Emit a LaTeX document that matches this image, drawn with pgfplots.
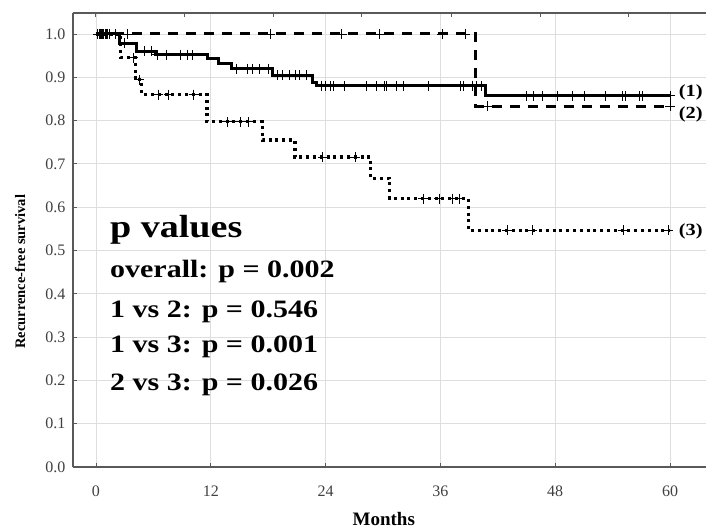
\documentclass[border=0pt]{standalone}
\usepackage{fontspec}
\setmainfont{Liberation Serif}
\usepackage{graphicx}
\usepackage{pgfplots}
\pgfplotsset{compat=1.18}

\begin{document}
\begin{tikzpicture}
\begin{axis}[
  name=ax,
  scale only axis,
  width=633pt, height=454pt,
  xmin=-2.40, xmax=63.76,
  ymin=0, ymax=1.0485,
  clip=false,
  separate axis lines,
  axis x line*=box,
  axis y line*=left,
  axis line style={draw=black!65, line width=1.2pt, -},
  xtick={0,12,24,36,48,60},
  xtick pos=bottom,
  ytick={0,0.1,0.2,0.3,0.4,0.5,0.6,0.7,0.8,0.9,1.0},
  yticklabels={0.0,0.1,0.2,0.3,0.4,0.5,0.6,0.7,0.8,0.9,1.0},
  ytick pos=left,
  tick align=inside,
  major tick length=4pt,
  tick style={draw=black!65, line width=0.8pt},
  grid=major,
  major grid style={draw=black!13, line width=0.8pt},
  /pgf/number format/assume math mode=true,
  xticklabel style={font=\fontsize{16}{16}\selectfont, text=black!75, yshift=-15pt},
  yticklabel style={font=\fontsize{16}{16}\selectfont, text=black!75, xshift=-4pt},
  xlabel={Months},
  xlabel style={font=\bfseries\fontsize{19}{19}\selectfont, at={(axis description cs:0.491,-0.1145)}, anchor=center},
  ylabel={Recurrence-free survival},
  ylabel style={font=\bfseries\fontsize{14.5}{14.5}\selectfont, at={(axis description cs:-0.0835,0.43)}, anchor=center, rotate=0},
]
% Group 1 (solid)
\addplot[const plot, black, line width=3pt] coordinates {
(0,1.000)(2.5,0.979)(4.2,0.960)(6.2,0.952)(11.7,0.943)(12.8,0.933)(14.2,0.920)(18.4,0.905)(22.6,0.888)(23.1,0.880)(40.7,0.857)(60,0.857)};
% Group 2 (dashed)
\addplot[const plot, black, line width=3pt, dash pattern=on 10pt off 8pt] coordinates {
(0,1.000)(39.7,0.833)(60,0.833)};
% Group 3 (dotted)
\addplot[const plot, black, line width=3.2pt, dash pattern=on 3pt off 3.8pt] coordinates {
(0,1.000)(2.6,0.945)(4.1,0.894)(4.8,0.860)(11.6,0.797)(17.4,0.755)(20.8,0.716)(28.7,0.667)(30.7,0.620)(38.9,0.547)(60,0.547)};
% censored marks group 1
\addplot[only marks, mark=+, mark size=5pt, mark options={black, line width=0.9pt, solid}] coordinates {
(0.2,1)(0.35,1)(0.5,1)(0.65,1)(0.8,1)(0.95,1)(1.1,1)(1.25,1)(1.4,1)(2.0,1)
(3.0,0.979)
(5.1,0.960)(5.8,0.960)
(6.4,0.952)(7.4,0.952)(8.8,0.952)(9.6,0.952)(10.1,0.952)
(14.7,0.920)(15.8,0.920)(16.4,0.920)(17.1,0.920)(18.0,0.920)
(19.0,0.905)(19.5,0.905)(20.2,0.905)(20.8,0.905)(21.3,0.905)(22.0,0.905)
(23.6,0.880)(24.0,0.880)(24.5,0.880)(24.8,0.880)(26.0,0.880)(28.3,0.880)(29.3,0.880)(30.2,0.880)(30.4,0.880)(31.4,0.880)(32.1,0.880)(34.8,0.880)(38.1,0.880)(38.4,0.880)(39.4,0.880)(39.8,0.880)(40.3,0.880)
(45.0,0.857)(45.7,0.857)(46.7,0.857)(48.2,0.857)(49.8,0.857)(51.1,0.857)(53.2,0.857)(55.0,0.857)(55.3,0.857)(56.8,0.857)(57.1,0.857)(60.0,0.857)};
% censored marks group 2
\addplot[only marks, mark=+, mark size=5pt, mark options={black, line width=0.9pt, solid}] coordinates {
(0.6,1)(1.2,1)(3.3,1)(18.2,1)(25.7,1)(29.6,1)(36.2,1)(38.6,1)
(40.9,0.833)(60.0,0.833)};
% censored marks group 3
\addplot[only marks, mark=+, mark size=5pt, mark options={black, line width=0.9pt, solid}] coordinates {
(3.9,0.945)(4.5,0.894)
(6.5,0.860)(7.6,0.860)(10.2,0.860)
(13.7,0.797)(15.1,0.797)(15.9,0.797)
(23.7,0.716)(27.1,0.716)
(34.2,0.620)(35.9,0.620)(37.3,0.620)(38.0,0.620)
(43.0,0.547)(45.6,0.547)(55.1,0.547)(59.8,0.547)};
% text
\node[anchor=base west, inner sep=0pt, font=\bfseries\fontsize{32}{32}\selectfont] at (axis cs:1.46,0.531) {\scalebox{1.19}[1]{p values}};
\node[anchor=base west, inner sep=0pt, font=\bfseries\fontsize{25}{25}\selectfont] at (axis cs:1.46,0.4365) {\scalebox{1.2}[1]{overall: p = 0.002}};
\node[anchor=base west, inner sep=0pt, font=\bfseries\fontsize{25}{25}\selectfont] at (axis cs:1.46,0.3464) {\scalebox{1.2}[1]{1 vs 2: p = 0.546}};
\node[anchor=base west, inner sep=0pt, font=\bfseries\fontsize{25}{25}\selectfont] at (axis cs:1.46,0.2633) {\scalebox{1.2}[1]{1 vs 3: p = 0.001}};
\node[anchor=base west, inner sep=0pt, font=\bfseries\fontsize{25}{25}\selectfont] at (axis cs:1.46,0.1778) {\scalebox{1.2}[1]{2 vs 3: p = 0.026}};
\node[anchor=west, inner sep=0pt, font=\bfseries\fontsize{17}{17}\selectfont] at (axis cs:60.9,0.865) {\scalebox{1.2}[1]{(1)}};
\node[anchor=west, inner sep=0pt, font=\bfseries\fontsize{17}{17}\selectfont] at (axis cs:60.9,0.815) {\scalebox{1.2}[1]{(2)}};
\node[anchor=west, inner sep=0pt, font=\bfseries\fontsize{17}{17}\selectfont] at (axis cs:60.9,0.543) {\scalebox{1.2}[1]{(3)}};
\end{axis}
\begin{axis}[
  scale only axis,
  width=633pt, height=454pt,
  xmin=-2.40, xmax=63.76,
  ymin=0, ymax=1.0485,
  axis x line*=top,
  axis y line=none,
  axis line style={draw=none},
  xtick={-0.1,9.2,18.5,27.7,37.1,46.4,55.6},
  xticklabels={},
  tick align=inside,
  major tick length=4pt,
  tick style={draw=black!65, line width=0.8pt},
]
\end{axis}
\pgfresetboundingbox
\path[use as bounding box] ([xshift=-73pt,yshift=-63pt]ax.south west) rectangle ([yshift=13pt]ax.north east);
\end{tikzpicture}
\end{document}
